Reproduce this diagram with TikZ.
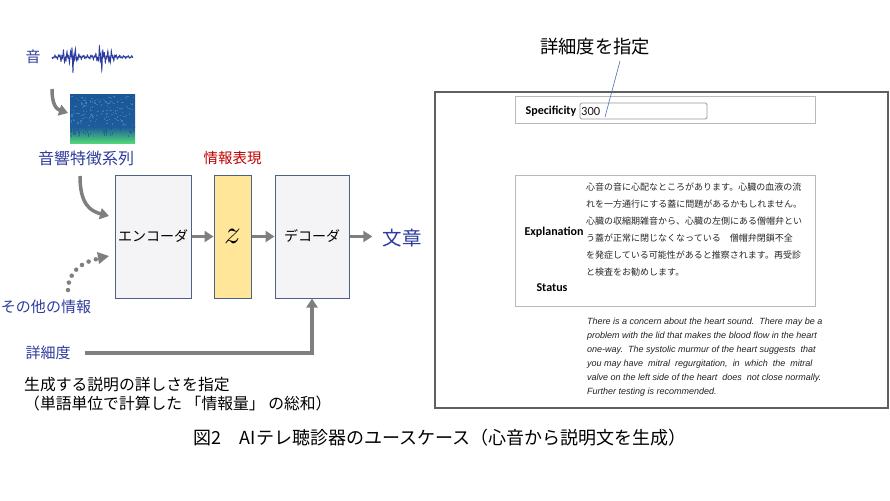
\documentclass[tikz,border=0pt]{standalone}
\usepackage{fontspec}
\setmainfont{Noto Sans CJK JP}
\newfontfamily\uifont{Carlito}
\newfontfamily\enfont{Liberation Sans}
\usetikzlibrary{arrows.meta,positioning}

\definecolor{labelblue}{HTML}{2E3C9C}
\definecolor{labelred}{HTML}{C00000}
\definecolor{boxedge}{HTML}{4A6288}
\definecolor{boxfill}{HTML}{F4F4F6}
\definecolor{zfill}{HTML}{FFE699}
\definecolor{arrowgray}{HTML}{7F7F7F}
\definecolor{wave}{HTML}{2A3C9E}
\definecolor{leader}{HTML}{4A6FB5}
\definecolor{specdark}{HTML}{1C5696}
\definecolor{speclight}{HTML}{3C8FC4}
\definecolor{specgreen}{HTML}{50D678}

\tikzset{
  lbl/.style={text=labelblue, font=\fontsize{15}{18}\selectfont, inner sep=0pt},
  proc/.style={draw=boxedge, line width=1pt, fill=boxfill, minimum height=123pt,
    inner sep=0pt, font=\fontsize{14}{16}\selectfont},
  garrow/.style={draw=arrowgray, line width=3.5pt, -{Triangle[length=9pt,width=11pt]}},
  uibox/.style={draw=gray!55, line width=0.9pt},
  uilabel/.style={font=\uifont\bfseries\fontsize{12}{14}\selectfont, inner sep=0pt}
}

\begin{document}
\begin{tikzpicture}[x=1pt,y=-1pt]
  \useasboundingbox (0,0) rectangle (890,500);

  % sound and feature series
  \node[lbl] (oto) at (33,57) {音};
  \draw[wave, line width=0.8pt, xshift=52pt] plot[domain=0:81, samples=330]
    (\x, {57 + (1.2 + 15/(1+((\x-21)/2.2)^2) + 15/(1+((\x-49)/2.2)^2)
      + 6/(1+((\x-12)/3)^2) + 6/(1+((\x-58)/3)^2))*sin(\x*150)*cos(\x*61)});
  \shade[top color=specdark, bottom color=specdark!90!speclight] (70,95) rectangle (135,127);
  \shade[top color=specdark!90!speclight, bottom color=specgreen] (70,127) rectangle (135,143);
  \pgfmathsetseed{11}
  \foreach \i in {1,...,150}{
    \pgfmathsetmacro\px{70.5+63*rnd}
    \pgfmathsetmacro\py{95.5+30*rnd}
    \fill[speclight, opacity=0.7] (\px,\py) rectangle +(1.4,1.2);
  }
  \foreach \i in {1,...,40}{
    \pgfmathsetmacro\px{70.5+63*rnd}
    \pgfmathsetmacro\py{127+8*rnd}
    \fill[specdark, opacity=0.6] (\px,\py) rectangle +(1.2,2.5);
  }
  \coordinate (spec) at (68,113);
  \node[lbl, font=\fontsize{16}{18}\selectfont] (feat) at (86,158) {音響特徴系列};
  \draw[garrow] (52,89) .. controls (52,104) and (56,109) .. (spec);

  % encoder - z - decoder
  \node[proc, minimum width=76pt] (enc) at (153,236.5) {エンコーダ};
  \node[proc, minimum width=37pt, fill=zfill, font=\normalsize] (z) at (232.5,236.5) {\scalebox{3.3}{$z$}};
  \node[proc, minimum width=74pt] (dec) at (312,236.5) {デコーダ};
  \node[text=labelred, font=\fontsize{14.5}{17}\selectfont, inner sep=0pt] (rep) at (232.5,158) {情報表現};
  \node[lbl, font=\fontsize{19.5}{22}\selectfont] (bun) at (402,238) {文章};

  \draw[garrow] (enc.east) -- (z.west);
  \draw[garrow] (z.east) -- (dec.west);
  \draw[garrow, shorten >=10pt] (dec.east) -- (dec.east -| bun.west);

  \coordinate (encin) at (109,216);
  \draw[garrow] (80,176) .. controls (80,204) and (90,211) .. (encin);

  % other information
  \node[lbl] (other) at (46,307) {その他の情報};
  \coordinate (otherin) at (109,256);
  \draw[draw=arrowgray, line width=4.5pt, line cap=round, dash pattern=on 0pt off 7.5pt]
    (68,290) .. controls (68,272) and (82,262) .. (97,259);
  \fill[arrowgray] (otherin) -- (97,252) -- (99,264) -- cycle;

  % specificity
  \node[lbl] (detail) at (48,353) {詳細度};
  \draw[garrow] (detail.east) ++(14,0) -| (dec.south);
  \node[font=\fontsize{15.8}{19}\selectfont, align=left, anchor=north west, inner sep=0pt] (note) at (24,377)
    {生成する説明の詳しさを指定\\（単語単位で計算した 「情報量」 の総和）};

  % caption
  \node[font=\fontsize{18}{20}\selectfont, inner sep=0pt] (cap) at (440,438)
    {図2\quad AIテレ聴診器のユースケース（心音から説明文を生成）};

  % screen capture
  \draw[draw=gray!75!black, line width=1.1pt] (435,92) rectangle (888,408);
  \draw[uibox] (515,96) rectangle (815,123);
  \node[uilabel] (specl) at (551,111) {Specificity};
  \draw[draw=gray!80, line width=0.9pt, rounded corners=1.5pt] (580,103) rectangle (707,119);
  \node[font=\uifont\fontsize{12.5}{14}\selectfont, anchor=west, inner sep=0pt, text=gray!20!black] (val) at (581,111) {300};
  \coordinate (valpt) at (605,117);
  \node[font=\fontsize{18.3}{20}\selectfont, inner sep=0pt] (setdetail) at (595,47) {詳細度を指定};
  \draw[leader, line width=0.6pt] (620,61) -- (valpt);

  \draw[uibox] (515,175) rectangle (815,306);
  \node[uilabel] (expl) at (554,232) {Explanation};
  \node[uilabel] (stat) at (552,288) {Status};
  \node[font=\fontsize{9}{17}\selectfont, text=gray!30!black, align=left, anchor=north west, inner sep=0pt]
    (jatext) at (586,183)
    {心音の音に心配なところがあります。心臓の血液の流\\
     れを一方通行にする蓋に問題があるかもしれません。\\
     心臓の収縮期雑音から、心臓の左側にある僧帽弁とい\\
     う蓋が正常に閉じなくなっている　僧帽弁閉鎖不全\\
     を発症している可能性があると推察されます。再受診\\
     と検査をお勧めします。};
  \node[font=\enfont\itshape\fontsize{9}{14}\selectfont, text=gray!25!black, align=left, anchor=north west,
    inner sep=0pt] (entext) at (587,318)
    {There is a concern about the heart sound.\ \ There may be a\\
     problem with the lid that makes the blood flow in the heart\\
     one-way.\ \ The\ systolic murmur of the heart suggests\ \ that\\
     you may have\ \ mitral\ \ regurgitation,\ \ in\ \ which\ \ the\ \ mitral\\
     valve on the left side of the heart\ \ does\ \ not close normally.\\
     Further testing is recommended.};
\end{tikzpicture}
\end{document}
